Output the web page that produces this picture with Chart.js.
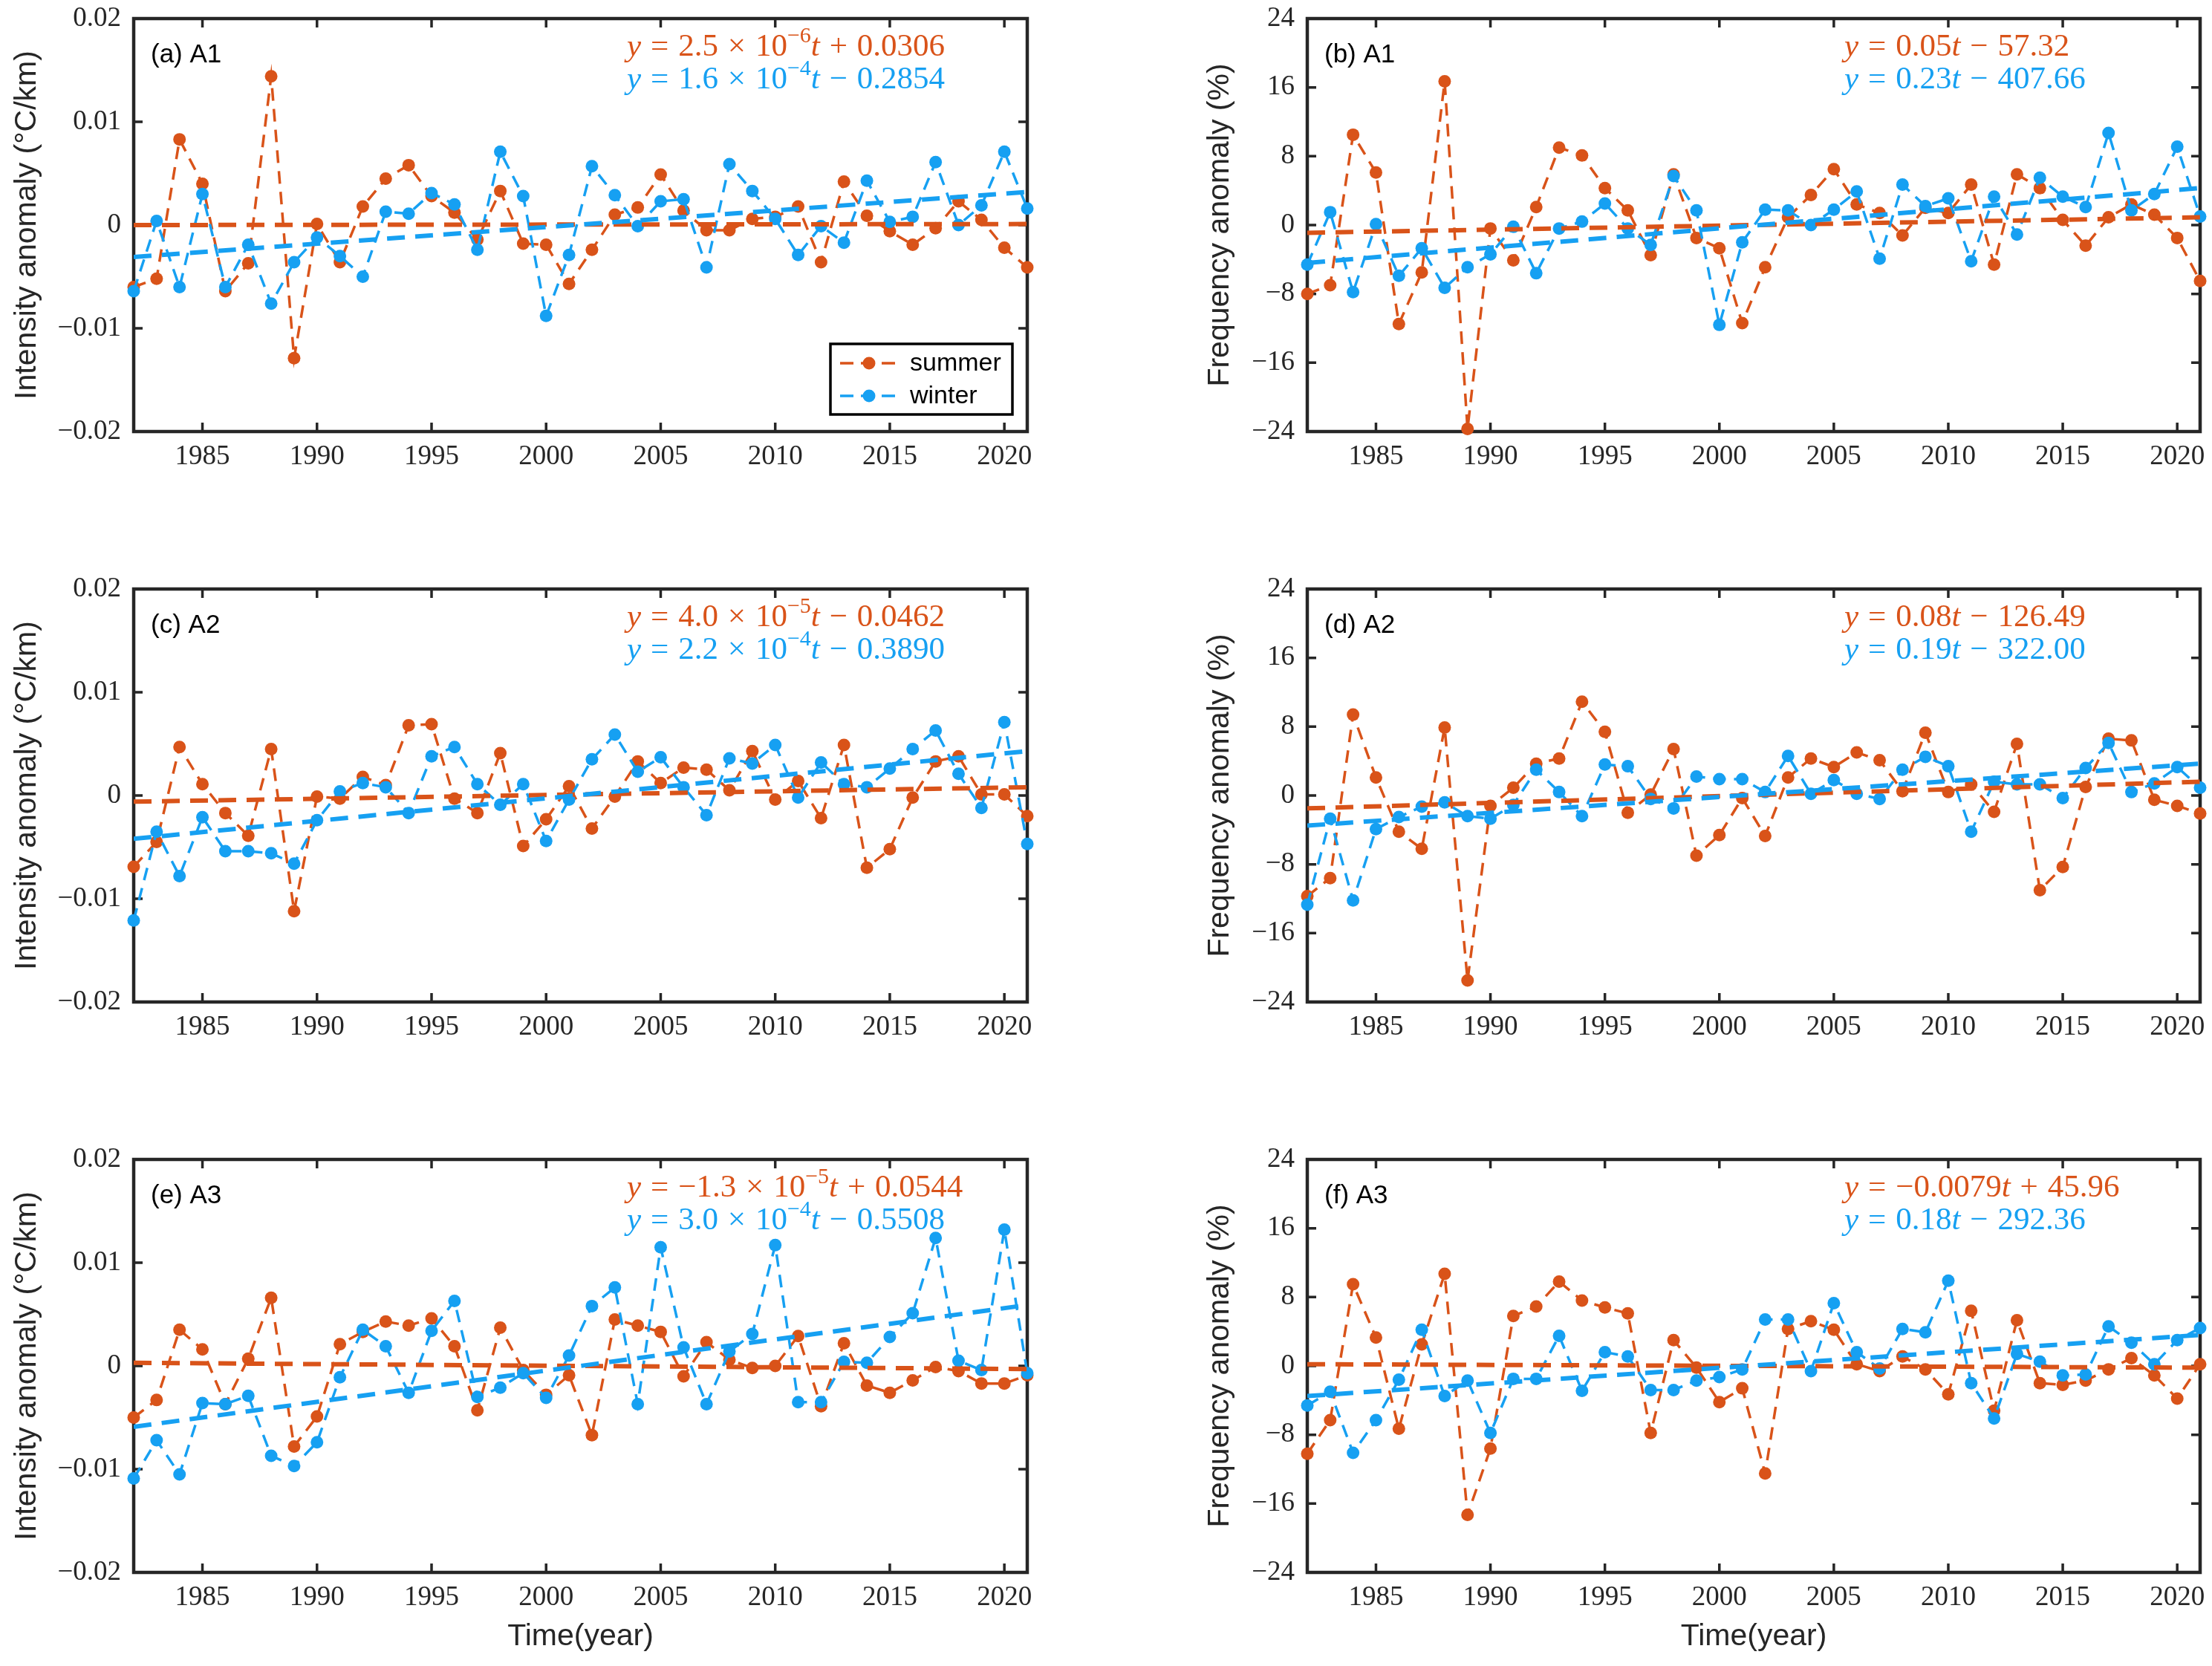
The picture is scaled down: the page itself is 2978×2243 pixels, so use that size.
<!DOCTYPE html>
<html>
<head>
<meta charset="utf-8">
<script src="https://cdn.jsdelivr.net/npm/chart.js@4.4.1/dist/chart.umd.min.js"></script>
<style>
  html, body { margin: 0; padding: 0; background: #fff; overflow: hidden; }
  #page { position: relative; width: 2978px; height: 2243px; }
  canvas { position: absolute; }
</style>
</head>
<body>
<div id="page">
  <canvas id="panelA" width="1420" height="768" style="left:0px;top:0px"></canvas>
  <canvas id="panelB" width="1398" height="768" style="left:1580px;top:0px"></canvas>
  <canvas id="panelC" width="1420" height="768" style="left:0px;top:768px"></canvas>
  <canvas id="panelD" width="1398" height="768" style="left:1580px;top:768px"></canvas>
  <canvas id="panelE" width="1420" height="707" style="left:0px;top:1536px"></canvas>
  <canvas id="panelF" width="1398" height="707" style="left:1580px;top:1536px"></canvas>
</div>
<script>
const years = [1982, 1983, 1984, 1985, 1986, 1987, 1988, 1989, 1990, 1991,
  1992, 1993, 1994, 1995, 1996, 1997, 1998, 1999, 2000, 2001,
  2002, 2003, 2004, 2005, 2006, 2007, 2008, 2009, 2010, 2011,
  2012, 2013, 2014, 2015, 2016, 2017, 2018, 2019, 2020, 2021];
const trendYears = [1982, 2021];
const seasonNames = ['summer', 'winter'];

const yearTicks = [1985, 1990, 1995, 2000, 2005, 2010, 2015, 2020];
const yearTickLabels = ['1985', '1990', '1995', '2000', '2005', '2010', '2015', '2020'];
const intensityTicks = [-0.02, -0.01, 0, 0.01, 0.02];
const intensityTickLabels = ['\u22120.02', '\u22120.01', '0', '0.01', '0.02'];
const frequencyTicks = [-24, -16, -8, 0, 8, 16, 24];
const frequencyTickLabels = ['\u221224', '\u221216', '\u22128', '0', '8', '16', '24'];

// (a) A1 intensity
const aSummer = [-0.0060, -0.0052, 0.0083, 0.0040, -0.0064, -0.0037, 0.0144, -0.0129, 0.0001, -0.0036,
  0.0018, 0.0045, 0.0058, 0.0028, 0.0012, -0.0014, 0.0033, -0.0018, -0.0019, -0.0057,
  -0.0024, 0.0010, 0.0017, 0.0049, 0.0014, -0.0005, -0.0005, 0.0006, 0.0008, 0.0018,
  -0.0036, 0.0042, 0.0009, -0.0006, -0.0019, -0.0003, 0.0023, 0.0005, -0.0022, -0.0041];
const aWinter = [-0.0064, 0.0004, -0.0060, 0.0030, -0.0060, -0.0019, -0.0076, -0.0036, -0.0012, -0.0030,
  -0.0050, 0.0013, 0.0011, 0.0031, 0.0020, -0.0024, 0.0071, 0.0028, -0.0088, -0.0029,
  0.0057, 0.0029, -0.0001, 0.0023, 0.0025, -0.0041, 0.0059, 0.0033, 0.0006, -0.0029,
  -0.0001, -0.0017, 0.0043, 0.0003, 0.0008, 0.0061, 0.0000, 0.0019, 0.0071, 0.0016];
const aSummerTrend = [0.0000, 0.0001];
const aWinterTrend = [-0.0031, 0.0032];

// (b) A1 frequency
const bSummer = [-8.0, -7.0, 10.5, 6.1, -11.5, -5.5, 16.7, -23.7, -0.4, -4.1,
  2.1, 9.0, 8.1, 4.3, 1.7, -3.5, 5.9, -1.5, -2.7, -11.4,
  -4.9, 0.9, 3.5, 6.5, 2.4, 1.4, -1.2, 2.0, 1.4, 4.7,
  -4.6, 5.9, 4.3, 0.6, -2.4, 0.9, 2.4, 1.2, -1.5, -6.5];
const bWinter = [-4.6, 1.5, -7.8, 0.1, -5.9, -2.7, -7.3, -4.9, -3.4, -0.2,
  -5.6, -0.4, 0.4, 2.5, -0.4, -2.3, 5.7, 1.7, -11.6, -2.0,
  1.8, 1.7, 0.0, 1.8, 3.9, -3.9, 4.7, 2.2, 3.1, -4.2,
  3.3, -1.1, 5.5, 3.3, 2.1, 10.7, 1.7, 3.6, 9.1, 1.0];
const bSummerTrend = [-0.9, 0.9];
const bWinterTrend = [-4.4, 4.3];

// (c) A2 intensity
const cSummer = [-0.0069, -0.0045, 0.0047, 0.0011, -0.0017, -0.0039, 0.0045, -0.0112, -0.0001, -0.0003,
  0.0018, 0.0010, 0.0068, 0.0069, -0.0003, -0.0017, 0.0041, -0.0049, -0.0023, 0.0009,
  -0.0032, -0.0001, 0.0033, 0.0012, 0.0027, 0.0025, 0.0005, 0.0043, -0.0004, 0.0014,
  -0.0022, 0.0049, -0.0070, -0.0052, -0.0002, 0.0033, 0.0038, 0.0001, 0.0001, -0.0020];
const cWinter = [-0.0121, -0.0035, -0.0078, -0.0021, -0.0054, -0.0054, -0.0056, -0.0066, -0.0024, 0.0004,
  0.0012, 0.0008, -0.0017, 0.0038, 0.0047, 0.0011, -0.0009, 0.0011, -0.0044, -0.0004,
  0.0035, 0.0059, 0.0023, 0.0037, 0.0008, -0.0019, 0.0036, 0.0031, 0.0049, -0.0002,
  0.0032, 0.0011, 0.0008, 0.0026, 0.0045, 0.0063, 0.0021, -0.0012, 0.0071, -0.0047];
const cSummerTrend = [-0.0006, 0.0008];
const cWinterTrend = [-0.0042, 0.0043];

// (d) A2 frequency
const dSummer = [-11.7, -9.6, 9.4, 2.1, -4.2, -6.2, 7.9, -21.5, -1.2, 0.9,
  3.7, 4.3, 10.9, 7.4, -2.0, 0.1, 5.4, -7.0, -4.6, -0.3,
  -4.7, 2.1, 4.3, 3.3, 5.0, 4.1, 0.5, 7.3, 0.4, 1.3,
  -1.9, 6.0, -11.0, -8.3, 1.0, 6.6, 6.4, -0.5, -1.2, -2.1];
const dWinter = [-12.7, -2.7, -12.2, -3.9, -2.5, -1.3, -0.8, -2.4, -2.7, -1.1,
  3.0, 0.4, -2.4, 3.6, 3.4, -0.4, -1.5, 2.2, 1.9, 1.9,
  0.4, 4.6, 0.2, 1.8, 0.2, -0.4, 3.0, 4.5, 3.4, -4.2,
  1.6, 1.3, 1.3, -0.3, 3.2, 6.1, 0.4, 1.4, 3.3, 0.9];
const dSummerTrend = [-1.5, 1.6];
const dWinterTrend = [-3.5, 3.7];

// (e) A3 intensity
const eSummer = [-0.0050, -0.0033, 0.0035, 0.0016, -0.0037, 0.0007, 0.0066, -0.0078, -0.0049, 0.0021,
  0.0033, 0.0043, 0.0039, 0.0046, 0.0019, -0.0043, 0.0037, -0.0004, -0.0028, -0.0009,
  -0.0067, 0.0045, 0.0039, 0.0033, -0.0010, 0.0023, 0.0006, -0.0002, 0.0000, 0.0029,
  -0.0039, 0.0022, -0.0019, -0.0026, -0.0014, -0.0001, -0.0005, -0.0017, -0.0017, -0.0009];
const eWinter = [-0.0109, -0.0072, -0.0105, -0.0036, -0.0037, -0.0029, -0.0087, -0.0097, -0.0074, -0.0011,
  0.0035, 0.0019, -0.0026, 0.0034, 0.0063, -0.0030, -0.0021, -0.0007, -0.0031, 0.0010,
  0.0058, 0.0076, -0.0037, 0.0115, 0.0018, -0.0037, 0.0014, 0.0031, 0.0117, -0.0035,
  -0.0035, 0.0004, 0.0003, 0.0028, 0.0051, 0.0124, 0.0005, -0.0004, 0.0132, -0.0007];
const eSummerTrend = [0.0003, -0.0003];
const eWinterTrend = [-0.0059, 0.0059];

// (f) A3 frequency
const fSummer = [-10.2, -6.3, 9.5, 3.3, -7.3, 2.5, 10.7, -17.3, -9.6, 5.8,
  6.9, 9.8, 7.6, 6.8, 6.1, -7.8, 3.0, -0.2, -4.2, -2.6,
  -12.5, 4.3, 5.2, 4.2, 0.2, -0.6, 1.1, -0.4, -3.3, 6.4,
  -5.2, 5.3, -2.0, -2.2, -1.7, -0.4, 0.9, -1.1, -3.8, 0.2];
const fWinter = [-4.6, -3.0, -10.1, -6.3, -1.6, 4.2, -3.5, -1.7, -7.8, -1.5,
  -1.5, 3.5, -2.9, 1.6, 1.1, -2.8, -2.8, -1.7, -1.3, -0.4,
  5.4, 5.4, -0.6, 7.3, 1.6, -0.3, 4.3, 3.9, 9.9, -2.0,
  -6.1, 1.4, 0.5, -1.1, -1.0, 4.6, 2.7, 0.2, 3.0, 4.4];
const fSummerTrend = [0.2, -0.2];
const fWinterTrend = [-3.5, 3.6];

const summerColor = '#D95319';
const winterColor = '#16A0F2';
const axisColor = '#262626';

Chart.defaults.font.family = '"Liberation Serif", serif';
Chart.defaults.color = axisColor;

// equations are drawn token by token: i = italic, o = operator, s = superscript, n = plain
function drawEquation(ctx, x, y, tokens, color) {
  const size = 43;
  ctx.fillStyle = color;
  ctx.textBaseline = 'alphabetic';
  tokens.forEach(([txt, kind]) => {
    const fs = kind === 's' ? Math.round(size * 0.7) : size;
    ctx.font = (kind === 'i' ? 'italic ' : '') + fs + 'px "Liberation Serif", serif';
    const pad = kind === 'o' ? size * 0.3 : 0;
    x += pad;
    ctx.fillText(txt, x, kind === 's' ? y - size * 0.42 : y);
    x += ctx.measureText(txt).width + pad;
  });
}

function drawLegend(ctx, a) {
  const left = a.left + 938, top = a.top + 438, w = 245, h = 95;
  ctx.fillStyle = '#fff';
  ctx.fillRect(left, top, w, h);
  ctx.strokeStyle = '#000';
  ctx.lineWidth = 3.5;
  ctx.strokeRect(left, top, w, h);
  [[seasonNames[0], summerColor, 26], [seasonNames[1], winterColor, 70]].forEach(([name, col, dy]) => {
    const yy = top + dy;
    ctx.strokeStyle = col;
    ctx.lineWidth = 3.5;
    ctx.setLineDash([18, 10]);
    ctx.beginPath();
    ctx.moveTo(left + 13, yy);
    ctx.lineTo(left + 92, yy);
    ctx.stroke();
    ctx.setLineDash([]);
    ctx.fillStyle = col;
    ctx.beginPath();
    ctx.arc(left + 52, yy, 8.5, 0, 2 * Math.PI);
    ctx.fill();
    ctx.fillStyle = '#000';
    ctx.font = '34px "Liberation Sans"';
    ctx.textBaseline = 'middle';
    ctx.fillText(name, left + 107, yy + 1);
  });
}

// box with inward ticks on all four sides, drawn under the data like MATLAB
const framePlugin = {
  id: 'frame',
  beforeDatasetsDraw(chart) {
    const {ctx, chartArea: a, scales: {x, y}} = chart;
    ctx.save();
    ctx.strokeStyle = axisColor;
    ctx.lineWidth = 3.5;
    ctx.beginPath();
    x.ticks.forEach(t => {
      const px = x.getPixelForValue(t.value);
      ctx.moveTo(px, a.bottom); ctx.lineTo(px, a.bottom - 12);
      ctx.moveTo(px, a.top); ctx.lineTo(px, a.top + 12);
    });
    y.ticks.forEach(t => {
      const py = y.getPixelForValue(t.value);
      ctx.moveTo(a.left, py); ctx.lineTo(a.left + 12, py);
      ctx.moveTo(a.right, py); ctx.lineTo(a.right - 12, py);
    });
    ctx.stroke();
    ctx.lineWidth = 4.5;
    ctx.strokeRect(a.left, a.top, a.right - a.left, a.bottom - a.top);
    ctx.restore();
  }
};

const panelTextPlugin = {
  id: 'panelText',
  afterDatasetsDraw(chart, args, opts) {
    const {ctx, chartArea: a} = chart;
    ctx.save();
    ctx.fillStyle = '#000';
    ctx.font = '35px "Liberation Sans"';
    ctx.textBaseline = 'alphabetic';
    ctx.fillText(opts.label, a.left + 23, a.top + 59);
    opts.equations.forEach((eq, k) => {
      drawEquation(ctx, a.left + opts.eqX, a.top + 50 + k * 44, eq, k === 0 ? summerColor : winterColor);
    });
    if (opts.legend) drawLegend(ctx, a);
    ctx.restore();
  }
};

function series(vals) {
  return vals.map((v, i) => ({x: years[i], y: v}));
}
function trend(vals) {
  return vals.map((v, i) => ({x: trendYears[i], y: v}));
}

function makePanel(id, cfg) {
  const isLeft = cfg.column === 0;
  const bottomRow = cfg.row === 2;
  new Chart(document.getElementById(id), {
    type: 'line',
    data: {
      datasets: [
        {label: seasonNames[0], data: series(cfg.summer), borderColor: summerColor, backgroundColor: summerColor,
          borderWidth: 3.5, borderDash: [17, 11], pointRadius: 8.5, pointBorderWidth: 0,
          pointBackgroundColor: summerColor, clip: false, order: 4},
        {label: seasonNames[1], data: series(cfg.winter), borderColor: winterColor, backgroundColor: winterColor,
          borderWidth: 3.5, borderDash: [17, 11], pointRadius: 8.5, pointBorderWidth: 0,
          pointBackgroundColor: winterColor, clip: false, order: 3},
        {label: 'summer trend', data: trend(cfg.summerTrend), borderColor: summerColor,
          borderWidth: 6, borderDash: [24, 14], pointRadius: 0, order: 2},
        {label: 'winter trend', data: trend(cfg.winterTrend), borderColor: winterColor,
          borderWidth: 6, borderDash: [24, 14], pointRadius: 0, order: 1}
      ]
    },
    options: {
      responsive: false,
      animation: false,
      devicePixelRatio: 1,
      layout: {padding: {left: 0, right: isLeft ? 37 : 16, top: 25, bottom: 0}},
      plugins: {
        legend: {display: false},
        tooltip: {enabled: false},
        panelText: {label: cfg.label, equations: cfg.equations, eqX: isLeft ? 664 : 723, legend: !!cfg.legend}
      },
      scales: {
        x: {
          type: 'linear',
          min: 1982,
          max: 2021,
          grid: {display: false, drawTicks: false},
          border: {display: false},
          afterBuildTicks: s => { s.ticks = yearTicks.map(v => ({value: v})); },
          afterFit: s => {
            s.height = bottomRow ? 126 : 187;
            s.paddingLeft = 0;
            s.paddingRight = 0;
          },
          ticks: {
            padding: 12,
            maxRotation: 0,
            color: axisColor,
            font: {family: '"Liberation Serif"', size: 37},
            callback: (v, i) => yearTickLabels[i]
          },
          title: {
            display: bottomRow,
            text: 'Time(year)',
            color: axisColor,
            padding: {top: 0, bottom: 15},
            font: {family: '"Liberation Sans"', size: 41}
          }
        },
        y: {
          type: 'linear',
          min: cfg.yTicks[0],
          max: cfg.yTicks[cfg.yTicks.length - 1],
          grid: {display: false, drawTicks: false},
          border: {display: false},
          afterBuildTicks: s => { s.ticks = cfg.yTicks.map(v => ({value: v})); },
          afterFit: s => {
            s.width = 180;
            s.paddingTop = 0;
            s.paddingBottom = 0;
          },
          ticks: {
            padding: 17,
            color: axisColor,
            font: {family: '"Liberation Serif"', size: 37},
            callback: (v, i) => cfg.yLabels[i]
          },
          title: {
            display: true,
            text: cfg.yTitle,
            color: axisColor,
            padding: {top: isLeft ? 12 : 38, bottom: 0},
            font: {family: '"Liberation Sans"', size: 41}
          }
        }
      }
    },
    plugins: [framePlugin, panelTextPlugin]
  });
}

const intensityTitle = 'Intensity anomaly (\u00B0C/km)';
const frequencyTitle = 'Frequency anomaly (%)';

makePanel('panelA', {
  row: 0, column: 0, label: '(a) A1', legend: true,
  summer: aSummer, winter: aWinter, summerTrend: aSummerTrend, winterTrend: aWinterTrend,
  yTicks: intensityTicks, yLabels: intensityTickLabels, yTitle: intensityTitle,
  equations: [
    [['y', 'i'], ['=', 'o'], ['2.5', 'n'], ['\u00D7', 'o'], ['10', 'n'], ['\u22126', 's'], ['t', 'i'], ['+', 'o'], ['0.0306', 'n']],
    [['y', 'i'], ['=', 'o'], ['1.6', 'n'], ['\u00D7', 'o'], ['10', 'n'], ['\u22124', 's'], ['t', 'i'], ['\u2212', 'o'], ['0.2854', 'n']]
  ]
});
makePanel('panelB', {
  row: 0, column: 1, label: '(b) A1',
  summer: bSummer, winter: bWinter, summerTrend: bSummerTrend, winterTrend: bWinterTrend,
  yTicks: frequencyTicks, yLabels: frequencyTickLabels, yTitle: frequencyTitle,
  equations: [
    [['y', 'i'], ['=', 'o'], ['0.05', 'n'], ['t', 'i'], ['\u2212', 'o'], ['57.32', 'n']],
    [['y', 'i'], ['=', 'o'], ['0.23', 'n'], ['t', 'i'], ['\u2212', 'o'], ['407.66', 'n']]
  ]
});
makePanel('panelC', {
  row: 1, column: 0, label: '(c) A2',
  summer: cSummer, winter: cWinter, summerTrend: cSummerTrend, winterTrend: cWinterTrend,
  yTicks: intensityTicks, yLabels: intensityTickLabels, yTitle: intensityTitle,
  equations: [
    [['y', 'i'], ['=', 'o'], ['4.0', 'n'], ['\u00D7', 'o'], ['10', 'n'], ['\u22125', 's'], ['t', 'i'], ['\u2212', 'o'], ['0.0462', 'n']],
    [['y', 'i'], ['=', 'o'], ['2.2', 'n'], ['\u00D7', 'o'], ['10', 'n'], ['\u22124', 's'], ['t', 'i'], ['\u2212', 'o'], ['0.3890', 'n']]
  ]
});
makePanel('panelD', {
  row: 1, column: 1, label: '(d) A2',
  summer: dSummer, winter: dWinter, summerTrend: dSummerTrend, winterTrend: dWinterTrend,
  yTicks: frequencyTicks, yLabels: frequencyTickLabels, yTitle: frequencyTitle,
  equations: [
    [['y', 'i'], ['=', 'o'], ['0.08', 'n'], ['t', 'i'], ['\u2212', 'o'], ['126.49', 'n']],
    [['y', 'i'], ['=', 'o'], ['0.19', 'n'], ['t', 'i'], ['\u2212', 'o'], ['322.00', 'n']]
  ]
});
makePanel('panelE', {
  row: 2, column: 0, label: '(e) A3',
  summer: eSummer, winter: eWinter, summerTrend: eSummerTrend, winterTrend: eWinterTrend,
  yTicks: intensityTicks, yLabels: intensityTickLabels, yTitle: intensityTitle,
  equations: [
    [['y', 'i'], ['=', 'o'], ['\u22121.3', 'n'], ['\u00D7', 'o'], ['10', 'n'], ['\u22125', 's'], ['t', 'i'], ['+', 'o'], ['0.0544', 'n']],
    [['y', 'i'], ['=', 'o'], ['3.0', 'n'], ['\u00D7', 'o'], ['10', 'n'], ['\u22124', 's'], ['t', 'i'], ['\u2212', 'o'], ['0.5508', 'n']]
  ]
});
makePanel('panelF', {
  row: 2, column: 1, label: '(f) A3',
  summer: fSummer, winter: fWinter, summerTrend: fSummerTrend, winterTrend: fWinterTrend,
  yTicks: frequencyTicks, yLabels: frequencyTickLabels, yTitle: frequencyTitle,
  equations: [
    [['y', 'i'], ['=', 'o'], ['\u22120.0079', 'n'], ['t', 'i'], ['+', 'o'], ['45.96', 'n']],
    [['y', 'i'], ['=', 'o'], ['0.18', 'n'], ['t', 'i'], ['\u2212', 'o'], ['292.36', 'n']]
  ]
});
</script>
</body>
</html>
